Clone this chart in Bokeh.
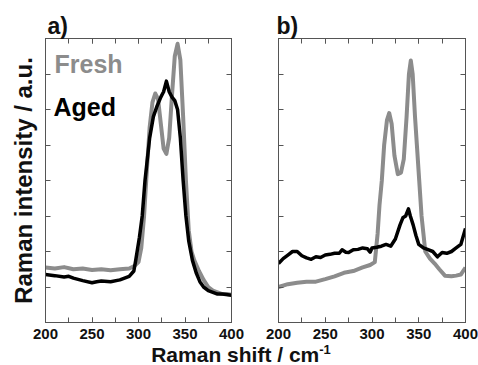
from bokeh.plotting import figure
from bokeh.models import LinearAxis, FixedTicker, Range1d, Label, Div, CustomJSTickFormatter
from bokeh.layouts import row, column
from bokeh.embed import file_html
from bokeh.resources import INLINE

FONT = "Liberation Sans"
GRAY = "#8c8c8c"
BLACK = "#000000"
FRAME = "#555555"

# ---------------- data ----------------
# panel a) Fresh
a_fresh_x = [200, 210, 220, 230, 240, 250, 260, 270, 280, 290, 295, 300, 303, 306, 309, 312, 315, 318,
             321, 324, 327, 330, 333, 336, 339, 342, 345, 348, 351, 354, 357, 360, 365, 370, 375, 380,
             385, 390, 395, 400]
a_fresh_y = [1.55, 1.52, 1.56, 1.50, 1.52, 1.48, 1.50, 1.47, 1.50, 1.52, 1.58, 1.70, 2.10, 3.00, 4.30,
             5.50, 6.20, 6.45, 6.30, 5.60, 4.90, 4.75, 5.20, 6.40, 7.50, 7.85, 7.40, 5.80, 4.00, 2.60,
             2.00, 1.75, 1.45, 1.20, 1.00, 0.90, 0.85, 0.80, 0.80, 0.78]
# panel a) Aged
a_aged_x = [200, 210, 220, 225, 230, 240, 250, 255, 260, 270, 280, 290, 295, 297, 301, 304, 307, 312,
            316, 320, 324, 327, 330, 333, 336, 339, 342, 345, 348, 351, 354, 358, 362, 366, 370, 375,
            380, 385, 390, 400]
a_aged_y = [1.35, 1.32, 1.28, 1.30, 1.25, 1.18, 1.12, 1.15, 1.17, 1.15, 1.20, 1.30, 1.45, 1.75, 2.40,
            3.00, 4.00, 5.20, 5.80, 6.10, 6.35, 6.50, 6.80, 6.50, 6.35, 6.25, 6.00, 5.20, 4.00, 3.00,
            2.30, 1.75, 1.40, 1.15, 1.00, 0.90, 0.85, 0.80, 0.80, 0.77]
# panel b) Fresh
b_fresh_x = [200, 210, 220, 230, 240, 250, 260, 270, 280, 290, 298, 303, 306, 308, 310.5, 313, 316,
             318.4, 321, 324, 327.6, 331, 334, 337, 339.5, 341.5, 343.5, 346, 348, 350.5, 353, 355,
             357, 362, 367, 372, 378, 385, 390, 395, 400]
b_fresh_y = [1.00, 1.08, 1.12, 1.15, 1.15, 1.22, 1.30, 1.40, 1.45, 1.55, 1.62, 1.70, 2.50, 3.30, 4.00,
             5.00, 5.70, 5.90, 5.60, 4.70, 4.18, 4.22, 4.60, 5.80, 7.00, 7.38, 7.00, 5.80, 5.00, 4.00,
             3.00, 2.50, 2.00, 1.80, 1.66, 1.50, 1.32, 1.30, 1.32, 1.35, 1.55]
# panel b) Aged
b_aged_x = [200, 205, 210, 215, 220, 225, 230, 235, 240, 245, 250, 255, 260, 265, 268, 272, 275, 280,
            285, 290, 295, 298, 300, 305, 310, 315, 320, 325, 330, 333, 336, 339, 341, 344, 347, 350,
            355, 360, 365, 370, 375, 380, 385, 390, 395, 400]
b_aged_y = [1.66, 1.80, 1.90, 2.00, 2.00, 1.88, 1.82, 1.78, 1.85, 1.83, 1.90, 1.92, 1.95, 1.95, 2.05,
            1.98, 1.97, 2.05, 2.06, 2.10, 2.08, 1.98, 2.10, 2.12, 2.15, 2.20, 2.15, 2.35, 2.75, 2.95,
            3.00, 3.20, 3.00, 2.75, 2.45, 2.20, 2.10, 2.05, 2.00, 1.85, 1.97, 1.95, 2.00, 2.10, 2.20,
            2.65]

x_major = [200, 250, 300, 350, 400]
x_minor = [200, 225, 250, 275, 300, 325, 350, 375, 400]
y_ticks = [0, 1, 2, 3, 4, 5, 6, 7, 8]

legend_names = ["Fresh", "Aged"]
panel_tags = ["a)", "b)"]


def make_panel(width, left, right, fx, fy, ax_, ay_, tag, tag_offset, ylabel=None, legend=False):
    p = figure(width=width, height=346, x_range=Range1d(200, 400), y_range=Range1d(0, 8),
               output_backend="svg", toolbar_location=None,
               min_border_left=left, min_border_right=right, min_border_top=38, min_border_bottom=24)
    p.grid.visible = False
    p.outline_line_color = FRAME
    p.background_fill_color = "white"
    p.border_fill_color = "white"

    p.title.text = tag
    p.title.align = "left"
    p.title.offset = tag_offset
    p.title.standoff = 0
    p.title.text_font = FONT
    p.title.text_font_style = "bold"
    p.title.text_font_size = "23px"
    p.title.text_color = "#111111"

    p.xaxis.ticker = FixedTicker(ticks=x_major, minor_ticks=x_minor)
    p.yaxis.ticker = FixedTicker(ticks=y_ticks)
    top = LinearAxis(ticker=FixedTicker(ticks=x_major, minor_ticks=x_minor))
    rgt = LinearAxis(ticker=FixedTicker(ticks=y_ticks))
    p.add_layout(top, "above")
    p.add_layout(rgt, "right")

    for ax in list(p.xaxis) + list(p.yaxis):
        ax.axis_line_color = FRAME
        ax.major_tick_in = 5
        ax.major_tick_out = 0
        ax.minor_tick_in = 5
        ax.minor_tick_out = 0
        ax.major_tick_line_color = FRAME
        ax.minor_tick_line_color = FRAME
        ax.major_label_text_font = FONT
        ax.major_label_text_font_style = "bold"
        ax.major_label_text_font_size = "15px"
        ax.major_label_text_color = "#111111"
        ax.major_label_standoff = 6
    for ax in [top, rgt] + list(p.left):
        ax.formatter = CustomJSTickFormatter(code="return ''")
        ax.major_label_standoff = 0
    for ax in p.left:
        if ylabel:
            ax.axis_label = ylabel
            ax.axis_label_text_font = FONT
            ax.axis_label_text_font_style = "bold"
            ax.axis_label_text_font_size = "24px"
            ax.axis_label_text_color = "#111111"
            ax.axis_label_standoff = 9

    p.line(fx, fy, line_color=GRAY, line_width=4, line_join="round")
    p.line(ax_, ay_, line_color=BLACK, line_width=3.5, line_join="round")

    if legend:
        p.add_layout(Label(x=209.7, y=7.29, text=legend_names[0], text_font=FONT,
                           text_font_style="bold", text_font_size="25px", text_color=GRAY,
                           text_baseline="alphabetic"))
        p.add_layout(Label(x=208.6, y=6.08, text=legend_names[1], text_font=FONT,
                           text_font_style="bold", text_font_size="25px", text_color=BLACK,
                           text_baseline="alphabetic"))
    return p


pa = make_panel(254, 45, 23, a_fresh_x, a_fresh_y, a_aged_x, a_aged_y, panel_tags[0], 2,
                ylabel="Raman intensity / a.u.", legend=True)
pb = make_panel(224, 24, 13, b_fresh_x, b_fresh_y, b_aged_x, b_aged_y, panel_tags[1], -2)

xlabel = Div(text=("<div style=\"width:478px;text-align:center;font-family:'Liberation Sans';"
                   "font-weight:bold;font-size:21px;line-height:22px;color:#111;padding-top:2px;\">"
                   "<span style=\"padding-left:4px;\">Raman shift / cm"
                   "<sup style=\"font-size:13px;line-height:0;\">-1</sup></span></div>"),
             width=478, height=26, margin=(-4, 0, 0, 0))

layout = column(row(pa, pb), xlabel)
open("out.html", "w").write(file_html(layout, INLINE))
